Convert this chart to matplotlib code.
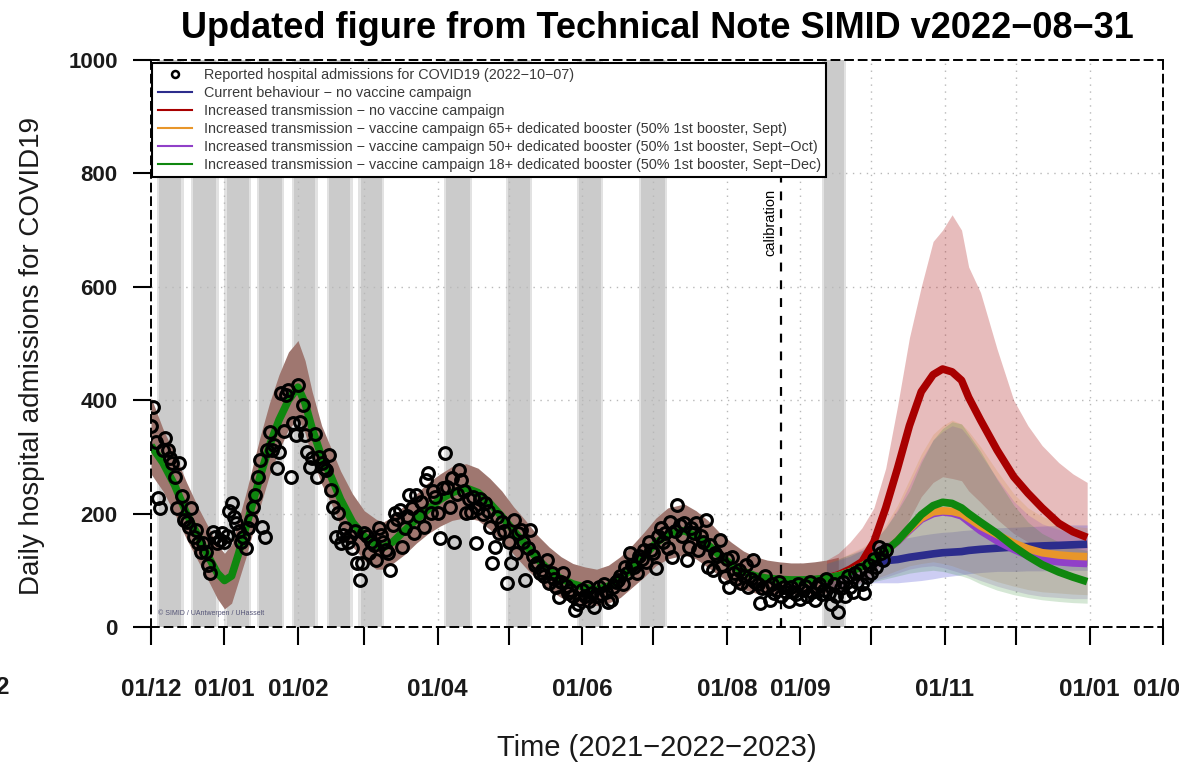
import numpy as np
import matplotlib
matplotlib.use("Agg")
import matplotlib.pyplot as plt
from matplotlib.lines import Line2D

plt.rcParams['font.family'] = ['Liberation Sans', 'DejaVu Sans']

START = np.datetime64('2021-12-01')

# ---------------- data ----------------
# reported daily hospital admissions, 2021-12-01 .. 2022-10-07
obs = [355, 388, 326, 227, 210, 312, 333, 312, 298, 290,
       265, 210, 289, 231, 189, 185, 176, 210, 159, 171,
       148, 132, 148, 132, 109, 95, 168, 159, 148, 153,
       165, 150, 160, 205, 219, 194, 183, 170, 150, 159,
       139, 175, 189, 212, 233, 265, 294, 176, 159, 312,
       344, 312, 321, 280, 309, 413, 345, 409, 418, 265,
       360, 339, 427, 362, 392, 339, 309, 282, 298, 340,
       265, 300, 290, 280, 277, 303, 242, 212, 159, 201,
       148, 162, 175, 150, 160, 140, 170, 113, 83, 113,
       166, 160, 130, 150, 145, 118, 175, 162, 150, 135,
       130, 100, 180, 201, 190, 206, 141, 175, 195, 233,
       210, 166, 233, 195, 220, 176, 259, 272, 201, 240,
       230, 201, 157, 245, 307, 247, 212, 262, 150, 235,
       277, 259, 240, 201, 225, 203, 230, 148, 210, 225,
       200, 219, 205, 176, 113, 141, 194, 166, 185, 170,
       78, 150, 113, 189, 130, 165, 171, 150, 83, 140,
       171, 125, 110, 113, 95, 100, 90, 118, 78, 95,
       85, 70, 53, 80, 95, 72, 60, 65, 55, 30,
       40, 50, 65, 55, 70, 45, 60, 35, 55, 70,
       58, 75, 62, 44, 48, 71, 80, 83, 90, 75,
       105, 95, 130, 110, 106, 95, 125, 120, 136, 115,
       150, 136, 130, 104, 160, 175, 150, 165, 140, 185,
       124, 170, 215, 180, 160, 183, 118, 141, 175, 165,
       183, 136, 160, 150, 189, 106, 145, 100, 130, 125,
       153, 110, 88, 120, 71, 124, 95, 85, 100, 78,
       90, 110, 70, 85, 118, 80, 75, 42, 68, 90,
       70, 48, 75, 60, 65, 80, 55, 70, 62, 45,
       70, 62, 58, 75, 50, 66, 72, 55, 80, 62,
       48, 70, 75, 58, 65, 85, 60, 40, 75, 55,
       26, 68, 80, 55, 90, 70, 62, 95, 80, 100,
       75, 60, 88, 110, 95, 120, 105, 141, 130, 118,
       135]

# model fit during the calibration period (days since 2021-12-01)
fit_days = [0, 5, 10, 15, 20, 25, 28, 31, 34, 37, 40, 43, 46, 50, 54, 58, 62, 65, 68, 72,
            76, 80, 85, 90, 95, 98, 102, 107, 112, 117, 122, 127, 133, 138, 143, 148, 153,
            158, 163, 168, 173, 178, 183, 188, 193, 198, 203, 208, 213, 218, 225, 230, 235,
            240, 245, 250, 255, 260, 265, 270, 275, 280, 285, 290]
fit_mean = [320, 290, 250, 200, 160, 118, 95, 82, 90, 130, 175, 220, 265, 320, 365, 400, 423, 395, 350, 300,
            265, 225, 185, 160, 145, 140, 150, 170, 190, 208, 225, 237, 245, 237, 218, 195, 170,
            145, 120, 100, 85, 76, 70, 66, 72, 85, 103, 125, 148, 163, 170, 160, 145,
            126, 110, 98, 90, 86, 84, 83, 83, 84, 86, 90]
fit_lo = [270, 240, 200, 155, 115, 75, 50, 32, 42, 82, 122, 168, 212, 268, 312, 348, 368, 342, 298, 252,
          218, 178, 142, 118, 102, 102, 112, 128, 148, 165, 178, 188, 193, 188, 172, 152, 128,
          105, 83, 65, 52, 45, 40, 38, 42, 52, 70, 88, 108, 120, 127, 120, 105,
          90, 76, 66, 60, 58, 58, 58, 58, 58, 60, 63]
fit_hi = [405, 350, 305, 255, 210, 170, 145, 130, 145, 190, 235, 285, 335, 395, 445, 485, 505, 470, 415, 355,
          315, 275, 235, 205, 190, 185, 195, 215, 235, 255, 270, 283, 288, 280, 262, 240, 212,
          188, 162, 141, 124, 112, 106, 102, 109, 124, 144, 167, 192, 210, 217, 205, 188,
          166, 149, 134, 124, 118, 115, 113, 113, 115, 118, 123]

# scenario projections
proj_days = [285, 290, 295, 300, 305, 310, 315, 320, 325, 330, 334, 338, 342, 345, 350, 357, 364, 370, 376, 383, 389, 395]
blue_mean = [86, 90, 95, 108, 113, 117, 119, 123, 126, 129, 131, 132, 133, 135, 137, 139, 141, 142, 143, 144, 145, 146]
red_mean = [86, 92, 102, 115, 150, 210, 280, 355, 415, 445, 455, 450, 435, 405, 365, 312, 265, 236, 210, 183, 168, 158]
orange_mean = [86, 90, 97, 107, 120, 134, 152, 173, 192, 203, 205, 204, 200, 192, 178, 163, 148, 138, 131, 127, 125, 124]
purple_mean = [86, 90, 97, 107, 120, 134, 151, 171, 190, 200, 203, 201, 196, 186, 170, 152, 137, 126, 119, 115, 113, 112]
green_mean = [86, 90, 97, 107, 120, 134, 152, 175, 198, 214, 220, 218, 210, 200, 185, 165, 142, 125, 110, 97, 88, 80]

blue_lo = [62, 65, 72, 76, 78, 78, 78, 80, 82, 85, 88, 90, 92, 94, 96, 98, 98, 99, 99, 100, 100, 100]
blue_hi = [112, 118, 125, 135, 145, 150, 155, 158, 162, 165, 167, 168, 170, 171, 173, 175, 176, 177, 178, 179, 180, 180]
red_lo = [62, 65, 70, 80, 95, 120, 150, 190, 230, 255, 265, 262, 258, 240, 220, 190, 165, 150, 135, 122, 115, 108]
red_hi = [118, 130, 150, 175, 210, 280, 390, 510, 600, 680, 700, 727, 700, 635, 590, 490, 400, 355, 320, 290, 270, 255]
orange_lo = [62, 65, 70, 78, 85, 92, 100, 108, 112, 115, 112, 108, 102, 98, 90, 80, 72, 66, 62, 60, 58, 57]
orange_hi = [112, 120, 130, 140, 155, 180, 215, 260, 305, 340, 355, 365, 358, 345, 318, 275, 235, 210, 195, 185, 178, 175]
purple_lo = [62, 65, 70, 76, 82, 88, 95, 102, 106, 108, 105, 100, 95, 90, 82, 72, 64, 58, 54, 52, 50, 50]
purple_hi = [112, 120, 128, 138, 152, 175, 208, 250, 295, 330, 345, 355, 350, 335, 305, 262, 222, 198, 182, 172, 166, 162]
green_lo = [62, 65, 70, 75, 80, 85, 90, 95, 98, 100, 98, 94, 90, 86, 76, 65, 57, 52, 48, 45, 43, 42]
green_hi = [112, 120, 128, 135, 150, 175, 205, 240, 290, 330, 350, 362, 358, 340, 310, 260, 215, 185, 165, 150, 140, 135]

# grey vertical periods (start/end, days since 2021-12-01)
band_start = [3.1, 17.5, 31.7, 45.4, 60.2, 74.8, 88.1, 124.2, 150.3, 180.4, 206.5, 283.6]
band_end = [13.1, 27.8, 41.5, 55.4, 69.6, 84.4, 97.7, 134.9, 160.0, 190.1, 217.2, 292.7]

calibration_day = 266

tick_months = ['2021-12-01', '2022-01-01', '2022-02-01', '2022-03-01', '2022-04-01', '2022-05-01',
               '2022-06-01', '2022-07-01', '2022-08-01', '2022-09-01', '2022-10-01', '2022-11-01',
               '2022-12-01', '2023-01-01', '2023-02-01']
tick_labels = ['01/12', '01/01', '01/02', '', '01/04', '', '01/06', '', '01/08', '01/09', '',
               '01/11', '', '01/01', '01/02']
y_ticks = [0, 200, 400, 600, 800, 1000]

legend_labels = ['Reported hospital admissions for COVID19 (2022\u221210\u221207)',
                 'Current behaviour \u2212 no vaccine campaign',
                 'Increased transmission \u2212 no vaccine campaign',
                 'Increased transmission \u2212 vaccine campaign 65+ dedicated booster (50% 1st booster, Sept)',
                 'Increased transmission \u2212 vaccine campaign 50+ dedicated booster (50% 1st booster, Sept\u2212Oct)',
                 'Increased transmission \u2212 vaccine campaign 18+ dedicated booster (50% 1st booster, Sept\u2212Dec)']


def to_date(d):
    return START + np.round(np.asarray(d, dtype=float) * 24).astype('timedelta64[h]')


# ---------------- figure ----------------
fig = plt.figure(figsize=(11.79, 7.65), dpi=100)
ax = fig.add_axes([151 / 1179, 1 - 627 / 765, (1163 - 151) / 1179, (627 - 60) / 765])

ax.set_xlim(to_date(0), np.datetime64('2023-02-01'))
ax.set_ylim(0, 1000)

# grey bands
for s, e in zip(band_start, band_end):
    ax.axvspan(to_date(s - 0.7), to_date(e + 0.7), color='#e2e2e2', lw=0, zorder=0.5)
    ax.axvspan(to_date(s + 0.3), to_date(e - 0.3), color='#cbcbcb', lw=0, zorder=0.6)

# grid
grid_kw = dict(color='#b8b8b8', lw=1.0, ls=(0, (1, 4)), zorder=0.7)
for yv in y_ticks[1:-1]:
    ax.axhline(yv, **grid_kw)
for m in tick_months[1:-1]:
    ax.axvline(np.datetime64(m), **grid_kw)

# calibration fit ribbon and projection ribbons
ax.fill_between(to_date(fit_days), fit_lo, fit_hi, color='#9f7770', lw=0, zorder=1)
pd_ = to_date(proj_days)
ax.fill_between(pd_, red_lo, red_hi, color='#b22222', alpha=0.3, lw=0, zorder=1.1)
ax.fill_between(pd_, blue_lo, blue_hi, color='#3a3ad0', alpha=0.25, lw=0, zorder=1.2)
ax.fill_between(pd_, orange_lo, orange_hi, color='#d08a30', alpha=0.2, lw=0, zorder=1.3)
ax.fill_between(pd_, purple_lo, purple_hi, color='#8a40c0', alpha=0.2, lw=0, zorder=1.4)
ax.fill_between(pd_, green_lo, green_hi, color='#2e8b2e', alpha=0.2, lw=0, zorder=1.5)

lw = 5.5
c_blue, c_red, c_orange, c_purple, c_green = '#2c2c8c', '#a80000', '#e8962a', '#9040c8', '#0f870f'
ax.plot(pd_, blue_mean, color=c_blue, lw=lw, zorder=2, solid_capstyle='butt')
ax.plot(pd_, red_mean, color=c_red, lw=lw, zorder=2.1, solid_capstyle='butt')
ax.plot(pd_, purple_mean, color=c_purple, lw=lw, zorder=2.2, solid_capstyle='butt')
ax.plot(pd_, orange_mean, color=c_orange, lw=lw, zorder=2.3, solid_capstyle='butt')
ax.plot(to_date(fit_days), fit_mean, color=c_green, lw=lw, zorder=2.4, solid_capstyle='butt')
ax.plot(pd_, green_mean, color=c_green, lw=lw, zorder=2.4, solid_capstyle='butt')

# observations
ax.plot(to_date(np.arange(len(obs))), obs, ls='none', marker='o', ms=8.5, mfc='none',
        mec='black', mew=2.2, zorder=3)

# calibration line
ax.axvline(to_date(calibration_day), color='black', ls=(0, (4, 4)), lw=1.6, zorder=3.5)
ax.text(to_date(calibration_day - 1.5), 772, 'calibration', rotation=90, ha='right', va='top',
        fontsize=10.5, zorder=4)

ax.text(to_date(3), 25, '\u00a9 SIMID / UAntwerpen / UHasselt', fontsize=5, color='#555577',
        va='center', ha='left', zorder=4)

# axes styling
for sp in ax.spines.values():
    sp.set_linestyle((0, (4, 3)))
    sp.set_linewidth(1.4)

ax.set_xticks([np.datetime64(m) for m in tick_months])
ax.set_xticklabels(tick_labels)
ax.set_yticks(y_ticks)
ax.set_yticklabels([str(v) for v in y_ticks])
ax.tick_params(axis='x', direction='out', length=13, width=1.5, pad=24, labelsize=17.5)
ax.tick_params(axis='y', direction='out', length=13, width=1.5, pad=11, labelsize=16)
for lab in ax.get_xticklabels() + ax.get_yticklabels():
    lab.set_fontweight('bold')
    lab.set_color('#1a1a1a')

# legend
handles = [Line2D([], [], ls='none', marker='o', ms=5, mfc='none', mec='black', mew=1.8),
           Line2D([], [], color=c_blue, lw=1.5),
           Line2D([], [], color=c_red, lw=1.5),
           Line2D([], [], color=c_orange, lw=1.5),
           Line2D([], [], color=c_purple, lw=1.5),
           Line2D([], [], color=c_green, lw=1.5)]
leg = ax.legend(handles, legend_labels, loc='upper left', bbox_to_anchor=(0.0, 0.997),
                fontsize=10.4, frameon=True, fancybox=False, framealpha=1, edgecolor='black',
                borderpad=0.35, labelspacing=0.28, handlelength=2.4, handletextpad=0.8,
                borderaxespad=0.1)
leg.get_frame().set_linewidth(1.5)
leg.set_zorder(10)
for t in leg.get_texts():
    t.set_color('#3a3a3a')

# titles
fig.text(657 / 1179, 1 - 28 / 765, 'Updated figure from Technical Note SIMID v2022\u221208\u221231',
         ha='center', va='center', fontsize=26, fontweight='bold')
fig.text(657 / 1179, 1 - 748 / 765, 'Time (2021\u22122022\u22122023)', ha='center', va='center',
         fontsize=21, color='#1a1a1a')
fig.text(32 / 1179, 1 - 356 / 765, 'Daily hospital admissions for COVID19', rotation=90,
         ha='center', va='center', fontsize=20, color='#1a1a1a')
fig.text(9 / 1179, 1 - 688 / 765, '2', ha='right', va='center', fontsize=17.5, fontweight='bold',
         color='#1a1a1a')

fig.savefig('out.png', dpi=100)
